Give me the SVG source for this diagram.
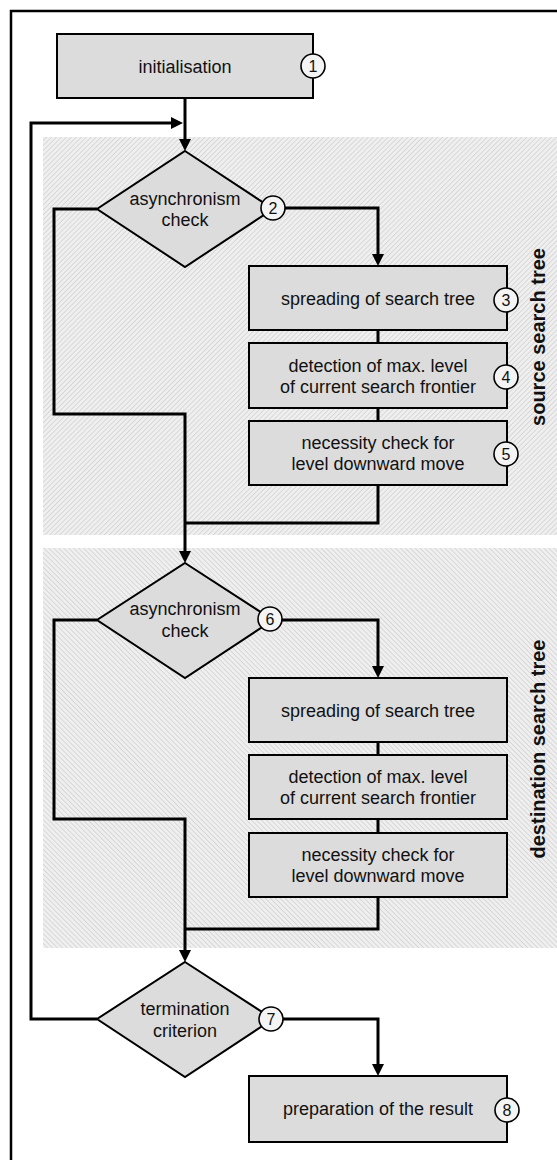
<svg xmlns="http://www.w3.org/2000/svg" width="557" height="1160" viewBox="0 0 557 1160">
<style>
.box{fill:#dcdcdc;stroke:#000;stroke-width:2}
.dia{fill:#dcdcdc;stroke:#000;stroke-width:2}
.num{fill:#f4f4f4;stroke:#000;stroke-width:1.6}
.t{font-family:"Liberation Sans",Arial,sans-serif;font-size:18px;fill:#111;text-anchor:middle}
.n{font-family:"Liberation Sans",Arial,sans-serif;font-size:16px;fill:#111;text-anchor:middle}
.lab{font-family:"Liberation Sans",Arial,sans-serif;font-size:20px;font-weight:bold;fill:#111;text-anchor:middle}
.c{fill:none;stroke:#000;stroke-width:3}
</style>
<defs>
<pattern id="h1" width="3.5" height="3.5" patternUnits="userSpaceOnUse" patternTransform="rotate(45)">
<rect width="3.5" height="3.5" fill="#efefef"/>
<line x1="0" y1="0" x2="0" y2="3.5" stroke="#c6c6c6" stroke-width="1.1"/>
</pattern>
<pattern id="h2" width="3.5" height="3.5" patternUnits="userSpaceOnUse" patternTransform="rotate(-45)">
<rect width="3.5" height="3.5" fill="#efefef"/>
<line x1="0" y1="0" x2="0" y2="3.5" stroke="#c6c6c6" stroke-width="1.1"/>
</pattern>
<marker id="arr" markerWidth="12" markerHeight="12" refX="4" refY="6" orient="auto" markerUnits="userSpaceOnUse">
<path d="M0,0 L12,6 L0,12 z" fill="#000"/>
</marker>
</defs>
<rect x="0" y="0" width="557" height="1160" fill="#fff"/>
<rect x="11" y="11" width="600" height="1200" fill="none" stroke="#000" stroke-width="2.5"/>
<g id="region-source">
<rect x="43" y="137" width="520" height="398" fill="url(#h1)"/>
<text class="lab" transform="translate(545,337) rotate(-90)">source search tree</text>
</g>
<g id="region-destination">
<rect x="43" y="548" width="520" height="400" fill="url(#h2)"/>
<text class="lab" transform="translate(545,749) rotate(-90)">destination search tree</text>
</g>
<g id="connectors">
<path class="c" d="M185,98 V143" marker-end="url(#arr)"/>
<path class="c" d="M97,1019 H31 V123 H175" marker-end="url(#arr)"/>
<path class="c" d="M285,208 H378 V258" marker-end="url(#arr)"/>
<path class="c" d="M378,330 V343"/>
<path class="c" d="M378,408 V421"/>
<path class="c" d="M378,485 V523 H185"/>
<path class="c" d="M97,209 H54 V414 H185 V555" marker-end="url(#arr)"/>
<path class="c" d="M282,620 H378 V670" marker-end="url(#arr)"/>
<path class="c" d="M378,742 V755"/>
<path class="c" d="M378,819 V833"/>
<path class="c" d="M378,897 V929 H185"/>
<path class="c" d="M97,620 H54 V819 H185 V954" marker-end="url(#arr)"/>
<path class="c" d="M283,1019 H378 V1068" marker-end="url(#arr)"/>
</g>
<g id="n1">
<rect class="box" x="57" y="34" width="256" height="64"/>
<text class="t" x="185" y="73">initialisation</text>
<circle class="num" cx="313" cy="66" r="12"/>
<text class="n" x="313" y="72">1</text>
</g>
<g id="n2">
<polygon class="dia" points="185,151 273,209 185,267 97,209"/>
<text class="t" x="185" y="205">asynchronism</text>
<text class="t" x="185" y="226">check</text>
<circle class="num" cx="273" cy="208" r="12"/>
<text class="n" x="273" y="214">2</text>
</g>
<g id="n3">
<rect class="box" x="249" y="266" width="258" height="64"/>
<text class="t" x="378" y="305">spreading of search tree</text>
<circle class="num" cx="506" cy="300" r="12"/>
<text class="n" x="506" y="306">3</text>
</g>
<g id="n4">
<rect class="box" x="249" y="343" width="258" height="65"/>
<text class="t" x="378" y="372">detection of max. level</text>
<text class="t" x="378" y="393">of current search frontier</text>
<circle class="num" cx="506" cy="377" r="12"/>
<text class="n" x="506" y="383">4</text>
</g>
<g id="n5">
<rect class="box" x="249" y="421" width="258" height="64"/>
<text class="t" x="378" y="449">necessity check for</text>
<text class="t" x="378" y="470">level downward move</text>
<circle class="num" cx="506" cy="454" r="12"/>
<text class="n" x="506" y="460">5</text>
</g>
<g id="n6">
<polygon class="dia" points="185,563 273,620 185,678 97,620"/>
<text class="t" x="185" y="615">asynchronism</text>
<text class="t" x="185" y="637">check</text>
<circle class="num" cx="270" cy="619" r="12"/>
<text class="n" x="270" y="625">6</text>
</g>
<g id="n7">
<rect class="box" x="249" y="678" width="258" height="64"/>
<text class="t" x="378" y="717">spreading of search tree</text>
</g>
<g id="n8">
<rect class="box" x="249" y="755" width="258" height="64"/>
<text class="t" x="378" y="783">detection of max. level</text>
<text class="t" x="378" y="804">of current search frontier</text>
</g>
<g id="n9">
<rect class="box" x="249" y="833" width="258" height="64"/>
<text class="t" x="378" y="861">necessity check for</text>
<text class="t" x="378" y="882">level downward move</text>
</g>
<g id="n10">
<polygon class="dia" points="185,962 273,1019 185,1077 97,1019"/>
<text class="t" x="185" y="1015">termination</text>
<text class="t" x="185" y="1037">criterion</text>
<circle class="num" cx="271" cy="1019" r="12"/>
<text class="n" x="271" y="1025">7</text>
</g>
<g id="n11">
<rect class="box" x="249" y="1076" width="258" height="66"/>
<text class="t" x="378" y="1115">preparation of the result</text>
<circle class="num" cx="507" cy="1110" r="12"/>
<text class="n" x="507" y="1116">8</text>
</g>
</svg>
